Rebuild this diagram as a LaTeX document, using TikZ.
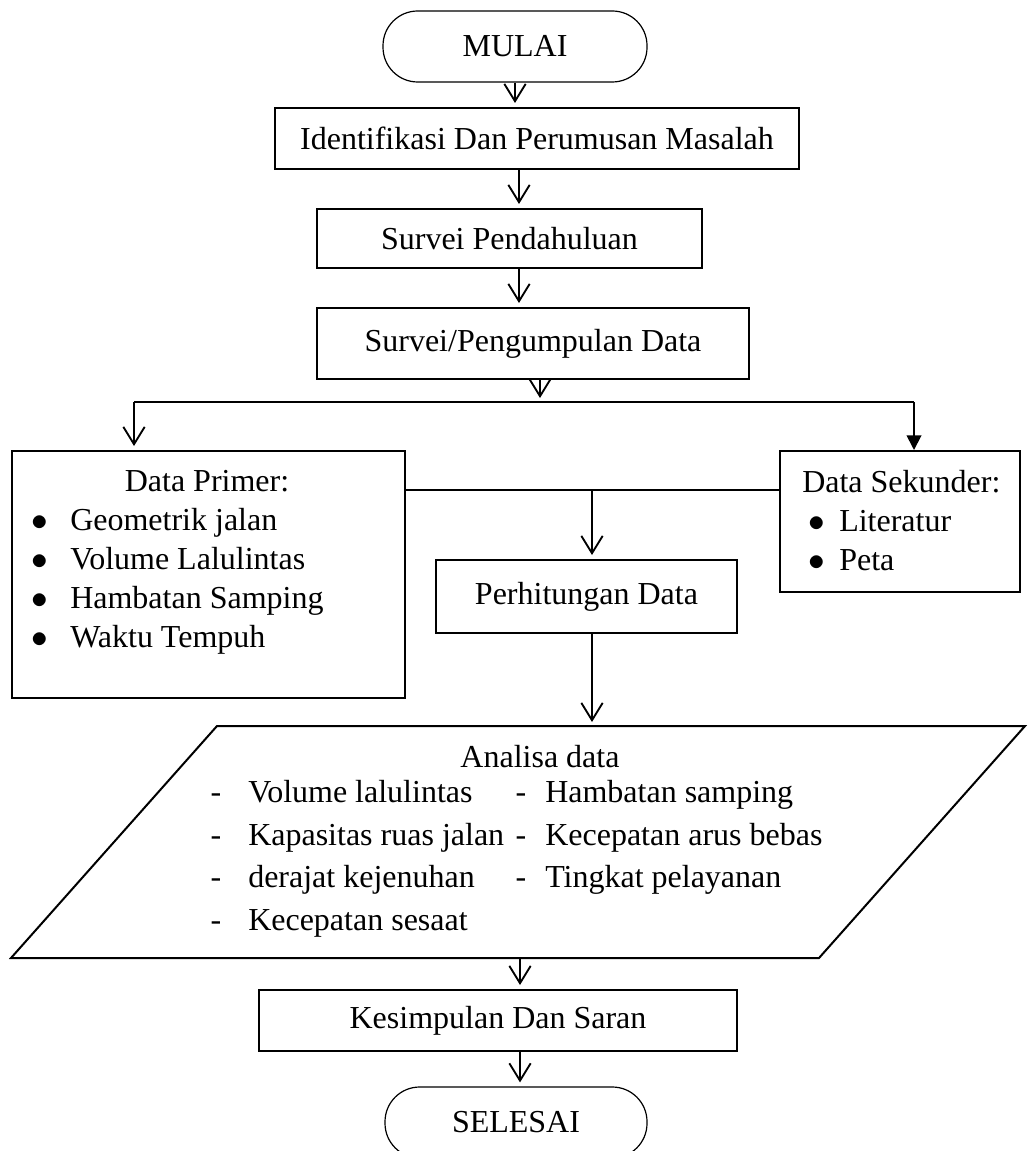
\documentclass[tikz,border=0pt]{standalone}
\usepackage{fontspec}
\setmainfont{Liberation Serif}
\usetikzlibrary{arrows.meta}

\tikzset{
  proc/.style={draw, line width=1.5pt, inner sep=0pt},
  term/.style={draw, line width=0.9pt, inner sep=0pt, rounded corners=26pt},
  arr/.style={line width=1.4pt, -{Straight Barb[length=13pt,width=16pt,line width=1.4pt]}, shorten >=3pt},
  arrf/.style={line width=1.4pt, -{Triangle[length=11pt,width=11pt]}},
  lbl/.style={anchor=base west, inner sep=0pt},
  cbase/.style={anchor=base, inner sep=0pt},
}

\begin{document}
\begin{tikzpicture}[x=0.75pt,y=0.75pt,yscale=-1,xscale=1,font=\fontsize{24}{29}\selectfont]
    \useasboundingbox (0,0) rectangle (1027,1151); %set diagram to the page size

    % Terminal Nodes
    \node [term, minimum width=198pt, minimum height=53.25pt] (mulai) at (515,46.5) {MULAI};
    \node [term, minimum width=196.5pt, minimum height=53.25pt] (selesai) at (516,1122.5) {SELESAI};

    % Process Nodes
    \node [proc, minimum width=393pt, minimum height=45.75pt] (ident) at (537,138.5) {Identifikasi Dan Perumusan Masalah};
    \node [proc, minimum width=288.75pt, minimum height=44.25pt] (survpen) at (509.5,238.5) {Survei Pendahuluan};
    \node [proc, minimum width=324pt, minimum height=53.25pt] (survpeng) at (533,343.5) {Survei/Pengumpulan Data};
    \node [proc, minimum width=294.75pt, minimum height=185.25pt] (primer) at (208.5,574.5) {};
    \node [proc, minimum width=180pt, minimum height=105.75pt] (sekunder) at (900,521.5) {};
    \node [proc, minimum width=225.75pt, minimum height=54.75pt] (perhit) at (586.5,596.5) {Perhitungan Data};
    \node [proc, minimum width=358.5pt, minimum height=45.75pt] (kesim) at (498,1020.5) {Kesimpulan Dan Saran};

    %Shape: Parallelogram
    \draw [line width=1.5pt] (11,958) -- (217,726) -- (1025,726) -- (819,958) -- cycle ;

    % Connector points
    \coordinate (ax) at (519,0);
    \coordinate (spl) at (540,402);
    \coordinate (splL) at (134,402);
    \coordinate (splR) at (914,402);
    \coordinate (mid) at (592,490);
    \coordinate (anTop) at (592,726);
    \coordinate (anBot) at (520,958);

    %Straight Lines
    \draw [arr] (mulai.south) -- (mulai.south |- ident.north);
    \draw [arr] (ident.south -| ax) -- (survpen.north -| ax);
    \draw [arr] (survpen.south -| ax) -- (survpeng.north -| ax);
    \draw [arr] (survpeng.south -| spl) -- (spl);
    \draw [line width=1.4pt] (splL) -- (splR);
    \draw [arr] (splL) -- (splL |- primer.north);
    \draw [arrf] (splR) -- (splR |- sekunder.north);
    \draw [line width=1.4pt] (mid -| primer.east) -- (mid -| sekunder.west);
    \draw [arr] (mid) -- (mid |- perhit.north);
    \draw [arr] (anTop |- perhit.south) -- (anTop);
    \draw [arr] (anBot) -- (anBot |- kesim.north);
    \draw [arr] (anBot |- kesim.south) -- (anBot |- selesai.north);

    % Text Node
    \node [cbase] (primT) at (207,491) {Data Primer:};
    \node [cbase] (pb1) at (40,530) {$\bullet$};
    \node [lbl] (p1) at (70,530) {Geometrik jalan};
    \node [cbase] (pb2) at (40,569) {$\bullet$};
    \node [lbl] (p2) at (70,569) {Volume Lalulintas};
    \node [cbase] (pb3) at (40,608) {$\bullet$};
    \node [lbl] (p3) at (70,608) {Hambatan Samping};
    \node [cbase] (pb4) at (40,647) {$\bullet$};
    \node [lbl] (p4) at (70,647) {Waktu Tempuh};
    % Text Node
    \node [lbl] (sekT) at (802,492) {Data Sekunder:};
    \node [cbase] (sb1) at (817,531) {$\bullet$};
    \node [lbl] (s1) at (839,531) {Literatur};
    \node [cbase] (sb2) at (817,570) {$\bullet$};
    \node [lbl] (s2) at (839,570) {Peta};
    % Text Node
    \node [cbase] (anT) at (540,767) {Analisa data};
    \node [cbase] (ad1) at (216,802) {-};
    \node [lbl] (a1) at (248,802) {Volume lalulintas};
    \node [cbase] (ad2) at (216,845) {-};
    \node [lbl] (a2) at (248,845) {Kapasitas ruas jalan};
    \node [cbase] (ad3) at (216,887) {-};
    \node [lbl] (a3) at (248,887) {derajat kejenuhan};
    \node [cbase] (ad4) at (216,930) {-};
    \node [lbl] (a4) at (248,930) {Kecepatan sesaat};
    \node [cbase] (bd1) at (521,802) {-};
    \node [lbl] (b1) at (545,802) {Hambatan samping};
    \node [cbase] (bd2) at (521,845) {-};
    \node [lbl] (b2) at (545,845) {Kecepatan arus bebas};
    \node [cbase] (bd3) at (521,887) {-};
    \node [lbl] (b3) at (545,887) {Tingkat pelayanan};

\end{tikzpicture}
\end{document}
